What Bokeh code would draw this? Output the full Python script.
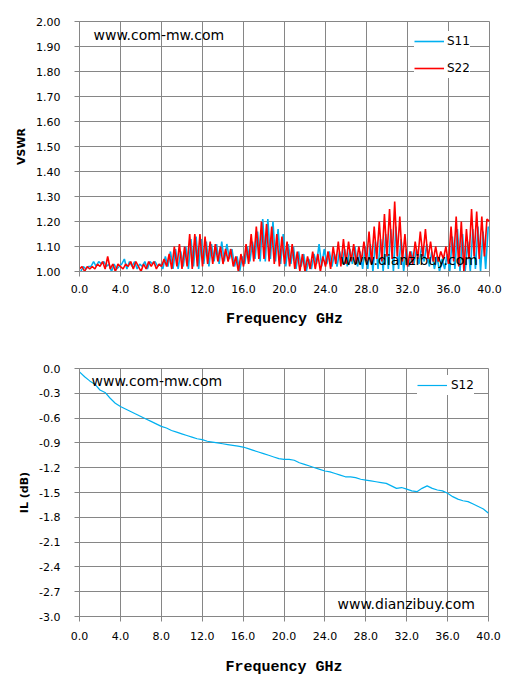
from bokeh.plotting import figure
from bokeh.layouts import column
from bokeh.models import (FixedTicker, PrintfTickFormatter, Legend, LegendItem,
                          Label, Range1d)
from bokeh.embed import file_html
from bokeh.resources import INLINE

# ---------------- data ----------------
# VSWR chart: 0.25 GHz steps; S11 samples sit half a step after S22 samples
freq_s22 = [i * 0.25 for i in range(161)]
freq_s11 = [0.125 + i * 0.25 for i in range(160)]

s11 = [
    1.00, 1.02, 1.01, 1.02,  1.02, 1.04, 1.02, 1.04,  1.03, 1.04, 1.02, 1.03,
    1.00, 1.03, 1.01, 1.02,  1.03, 1.05, 1.01, 1.04,  1.02, 1.04, 1.01, 1.03,
    1.02, 1.04, 1.01, 1.04,  1.03, 1.04, 1.02, 1.03,  1.01, 1.06, 1.02, 1.08,
    1.01, 1.09, 1.01, 1.08,  1.02, 1.10, 1.01, 1.13,  1.02, 1.14, 1.01, 1.13,
    1.03, 1.12, 1.02, 1.11,  1.04, 1.11, 1.03, 1.12,  1.04, 1.11, 1.05, 1.09,
    1.02, 1.06, 1.00, 1.06,  1.03, 1.10, 1.04, 1.12,  1.05, 1.16, 1.04, 1.21,
    1.04, 1.21, 1.05, 1.20,  1.04, 1.17, 1.03, 1.15,  1.02, 1.11, 1.03, 1.10,
    1.01, 1.08, 1.02, 1.07,  1.00, 1.05, 1.01, 1.07,  1.03, 1.11, 1.02, 1.09,
    1.03, 1.08, 1.02, 1.07,  1.02, 1.08, 1.03, 1.09,  1.02, 1.09, 1.03, 1.10,
    1.02, 1.08, 1.01, 1.10,  1.01, 1.11, 1.00, 1.12,  1.01, 1.13, 1.00, 1.15,
    1.01, 1.17, 1.00, 1.18,  1.01, 1.13, 1.00, 1.09,  1.02, 1.08, 1.03, 1.09,
    1.03, 1.10, 1.04, 1.11,  1.02, 1.08, 1.01, 1.06,  1.00, 1.05, 1.01, 1.07,
    1.00, 1.14, 1.01, 1.17,  1.00, 1.15, 1.00, 1.12,  1.00, 1.17, 1.01, 1.18,
    1.00, 1.16, 1.01, 1.18,
]

s22 = [
    1.01, 1.02, 1.00, 1.02,  1.01, 1.02, 1.01, 1.03,  1.02, 1.04, 1.01, 1.06,
    1.01, 1.03, 1.00, 1.03,  1.02, 1.01, 1.03, 1.02,  1.04, 1.01, 1.04, 1.02,
    1.00, 1.03, 1.01, 1.04,  1.02, 1.04, 1.01, 1.03,  1.02, 1.05, 1.02, 1.07,
    1.01, 1.10, 1.02, 1.11,  1.01, 1.10, 1.02, 1.15,  1.01, 1.15, 1.02, 1.15,
    1.02, 1.14, 1.03, 1.12,  1.03, 1.11, 1.04, 1.10,  1.03, 1.09, 1.04, 1.09,
    1.02, 1.06, 1.00, 1.07,  1.02, 1.11, 1.03, 1.15,  1.04, 1.18, 1.05, 1.20,
    1.05, 1.19, 1.04, 1.18,  1.03, 1.15, 1.02, 1.14,  1.03, 1.12, 1.02, 1.11,
    1.01, 1.08, 1.00, 1.07,  1.00, 1.06, 1.01, 1.08,  1.01, 1.07, 1.00, 1.06,
    1.02, 1.08, 1.01, 1.10,  1.03, 1.12, 1.02, 1.13,  1.03, 1.12, 1.04, 1.11,
    1.03, 1.10, 1.04, 1.12,  1.04, 1.16, 1.03, 1.18,  1.05, 1.20, 1.04, 1.23,
    1.06, 1.25, 1.05, 1.28,  1.06, 1.22, 1.04, 1.15,  1.02, 1.08, 1.03, 1.12,
    1.05, 1.16, 1.06, 1.17,  1.05, 1.12, 1.04, 1.10,  1.04, 1.08, 1.05, 1.10,
    1.03, 1.18, 1.04, 1.22,  1.02, 1.20, 1.00, 1.17,  1.05, 1.25, 1.06, 1.24,
    1.05, 1.22, 1.06, 1.21,  1.20,
]

# Insertion loss chart: 0.5 GHz steps
freq_il = [i * 0.5 for i in range(81)]
s12 = [
    -0.04, -0.10, -0.15, -0.19, -0.26, -0.29, -0.36, -0.42, -0.46, -0.49,
    -0.52, -0.55, -0.58, -0.61, -0.64, -0.67, -0.70, -0.72, -0.75, -0.77,
    -0.79, -0.81, -0.83, -0.85, -0.86, -0.88, -0.89, -0.90, -0.91, -0.92,
    -0.93, -0.94, -0.95, -0.97, -0.99, -1.01, -1.03, -1.05, -1.07, -1.09,
    -1.10, -1.10, -1.11, -1.14, -1.16, -1.18, -1.20, -1.22, -1.24, -1.25,
    -1.27, -1.29, -1.31, -1.31, -1.32, -1.34, -1.35, -1.36, -1.37, -1.38,
    -1.39, -1.42, -1.45, -1.44, -1.46, -1.48, -1.49, -1.45, -1.42, -1.45,
    -1.47, -1.48, -1.51, -1.55, -1.58, -1.60, -1.61, -1.64, -1.67, -1.70,
    -1.75,
]

x_ticks = [0, 4, 8, 12, 16, 20, 24, 28, 32, 36, 40]
vswr_ticks = [1.0, 1.1, 1.2, 1.3, 1.4, 1.5, 1.6, 1.7, 1.8, 1.9, 2.0]
il_ticks = [0.0, -0.3, -0.6, -0.9, -1.2, -1.5, -1.8, -2.1, -2.4, -2.7, -3.0]

x_title = "Frequency GHz"
vswr_title = "VSWR"
il_title = "IL (dB)"
watermark_top = "www.com-mw.com"
watermark_bottom = "www.dianzibuy.com"

# ---------------- styling ----------------
GRID = "#868686"
BLUE = "#00B0F0"
RED = "#FF0000"
TICK_FONT = "DejaVu Sans"


def style(p, yticks, yfmt, ytitle, xstand, xtitle_stand):
    p.background_fill_color = "white"
    p.border_fill_color = "white"
    p.outline_line_color = GRID
    p.outline_line_width = 1
    p.xaxis.ticker = FixedTicker(ticks=x_ticks)
    p.yaxis.ticker = FixedTicker(ticks=yticks)
    p.xgrid.ticker = FixedTicker(ticks=x_ticks)
    p.ygrid.ticker = FixedTicker(ticks=yticks)
    p.xaxis.formatter = PrintfTickFormatter(format="%.1f")
    p.yaxis.formatter = PrintfTickFormatter(format=yfmt)
    p.grid.grid_line_color = GRID
    p.grid.grid_line_width = 1
    for ax in (p.xaxis, p.yaxis):
        ax.axis_line_color = GRID
        ax.axis_line_width = 1
        ax.major_tick_line_color = GRID
        ax.major_tick_in = 0
        ax.major_tick_out = 5
        ax.minor_tick_line_color = None
        ax.major_label_text_font = TICK_FONT
        ax.major_label_text_font_size = "11px"
        ax.major_label_text_color = "black"
    p.xaxis.major_label_standoff = xstand
    p.yaxis.major_label_standoff = 14
    p.xaxis.axis_label = x_title
    p.xaxis.axis_label_text_font = "Liberation Mono"
    p.xaxis.axis_label_text_font_size = "15px"
    p.xaxis.axis_label_text_font_style = "bold"
    p.xaxis.axis_label_text_color = "black"
    p.xaxis.axis_label_standoff = xtitle_stand
    p.yaxis.axis_label = ytitle
    p.yaxis.axis_label_text_font = "DejaVu Sans"
    p.yaxis.axis_label_text_font_size = "11px"
    p.yaxis.axis_label_text_font_style = "bold"
    p.yaxis.axis_label_text_color = "black"
    p.yaxis.axis_label_standoff = 5


def watermark(p, text, x, y):
    p.add_layout(Label(x=x, y=y, x_units="screen", y_units="screen", text=text,
                       text_font="DejaVu Sans", text_font_size="14px",
                       text_color="black", text_baseline="middle"))


# ---------------- top chart ----------------
p1 = figure(frame_width=410, frame_height=250,
            x_range=Range1d(0, 40), y_range=Range1d(1.0, 2.0),
            output_backend="svg", toolbar_location=None,
            min_border_left=79, min_border_right=21,
            min_border_top=21, min_border_bottom=74)
style(p1, vswr_ticks, "%.2f", vswr_title, 8, 15)
r11 = p1.line(freq_s11, s11, line_color=BLUE, line_width=1.6)
r22 = p1.line(freq_s22, s22, line_color=RED, line_width=1.6)
leg1 = Legend(items=[LegendItem(label="S11", renderers=[r11]),
                     LegendItem(label="S22", renderers=[r22])],
              location=(335, 193), orientation="vertical",
              background_fill_color="white", background_fill_alpha=1.0,
              border_line_color=None, padding=7, spacing=7,
              glyph_width=30, glyph_height=20, label_height=20,
              label_standoff=3, label_text_font=TICK_FONT,
              label_text_font_size="12px", label_text_color="black",
              margin=0)
p1.add_layout(leg1)
watermark(p1, watermark_top, 14, 237)
watermark(p1, watermark_bottom, 261, 12)

# ---------------- bottom chart ----------------
p2 = figure(frame_width=409, frame_height=248,
            x_range=Range1d(0, 40), y_range=Range1d(-3.0, 0.0),
            output_backend="svg", toolbar_location=None,
            min_border_left=79, min_border_right=22,
            min_border_top=23, min_border_bottom=66)
style(p2, il_ticks, "%.1f", il_title, 10, 16)
r12 = p2.line(freq_il, s12, line_color=BLUE, line_width=1.2)
leg2 = Legend(items=[LegendItem(label="S12", renderers=[r12])],
              location=(338, 221), orientation="vertical",
              background_fill_color="white", background_fill_alpha=1.0,
              border_line_color=None, padding=7, spacing=7,
              glyph_width=30, glyph_height=20, label_height=20,
              label_standoff=4, label_text_font=TICK_FONT,
              label_text_font_size="12px", label_text_color="black",
              margin=0)
p2.add_layout(leg2)
watermark(p2, watermark_top, 12, 236)
watermark(p2, watermark_bottom, 258, 13)

layout = column(p1, p2, spacing=0)
open("out.html", "w").write(file_html(layout, INLINE))
